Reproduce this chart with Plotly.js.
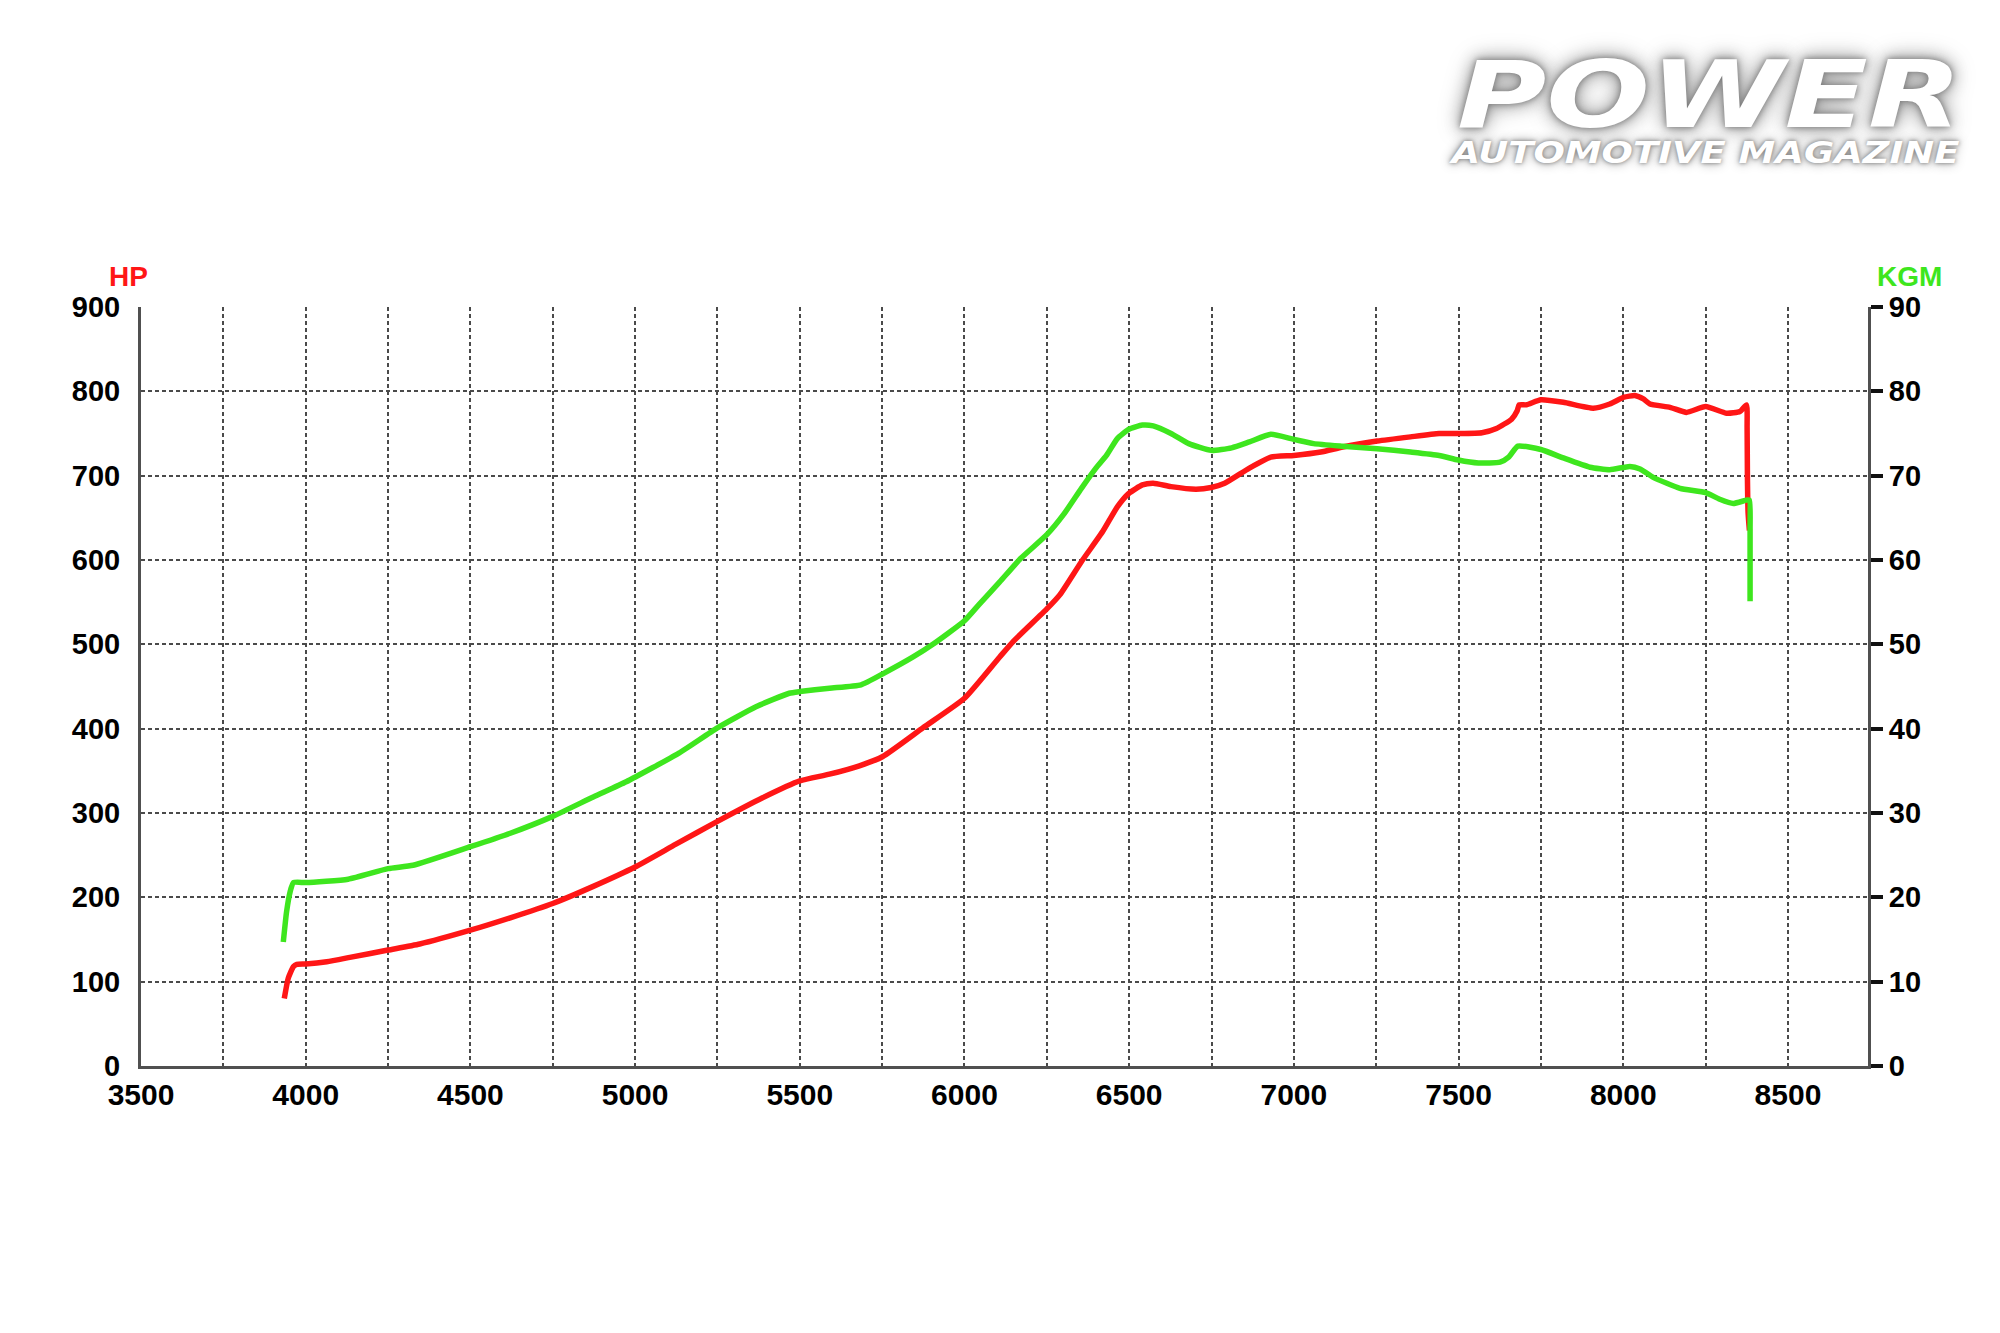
<!DOCTYPE html>
<html>
<head>
<meta charset="utf-8">
<script src="https://cdn.plot.ly/plotly-3.0.1.min.js"></script>
<style>html,body{margin:0;padding:0;background:#fff;}#chart{width:2000px;height:1333px;}</style>
</head>
<body>
<div id="chart"></div>
<script>
// ---- data ----
const hpRpm = [3935,3947,3963,3973,4000,4064,4134,4250,4346,4500,4621,4750,4873,5000,5124,5250,5387,5500,5590,5681,5752,5874,6000,6107,6147,6250,6290,6355,6420,6464,6499,6540,6573,6627,6703,6749,6790,6865,6930,7000,7082,7148,7253,7354,7441,7499,7571,7615,7661,7678,7684,7706,7750,7818,7909,7959,8002,8035,8061,8081,8142,8192,8250,8314,8354,8374,8376,8377,8379,8383];
const hpValues = [80,104,118,120.5,121,123.7,128.8,137.5,144.6,161,175.7,192.7,213,236,263,290,318,338,346,356,367,401,436,485,503,542,559,598,634,663,679,689,691,687,684,686,691,709,722,724,728,734,741,746,750,750,751,756,767,777,784,784,790,787,780,785,793,795,791,785,781,775,782,774,776,784,756,696,656,635];

const kgmRpm = [3932,3942,3953,3963,4000,4129,4250,4326,4500,4621,4750,4873,4973,5133,5250,5367,5468,5500,5590,5686,5752,5844,5904,6000,6046,6107,6171,6250,6301,6355,6399,6431,6464,6499,6540,6573,6627,6681,6749,6811,6865,6930,7000,7060,7148,7253,7354,7441,7499,7560,7626,7652,7680,7750,7818,7899,7959,8020,8051,8091,8172,8250,8293,8334,8374,8383,8385,8385];
const kgmValues = [14.7,18.3,20.7,21.75,21.75,22.15,23.4,23.8,26.0,27.6,29.6,31.9,33.7,37.1,40.1,42.6,44.2,44.4,44.8,45.2,46.5,48.5,50.0,52.8,54.8,57.4,60.2,63.0,65.4,68.5,70.9,72.4,74.4,75.5,76.0,75.9,75.0,73.8,73.0,73.3,74.0,74.9,74.3,73.8,73.5,73.2,72.8,72.4,71.85,71.5,71.6,72.2,73.5,73.1,72.1,71.0,70.7,71.1,70.8,69.8,68.5,68.0,67.2,66.7,67.1,67.1,63.7,55.1];

const xTicks = [3500,4000,4500,5000,5500,6000,6500,7000,7500,8000,8500];
const hpTicks = [0,100,200,300,400,500,600,700,800,900];
const kgmTicks = [0,10,20,30,40,50,60,70,80,90];
const leftTitle = "HP";
const rightTitle = "KGM";
const logoMain = "POWER";
const logoSub = "AUTOMOTIVE MAGAZINE";

// ---- styling ----
const RED = "#ff1616";
const GREEN = "#3ee61e";
const GRID = "#4a4a4a";
const AXIS = "#505050";
const tickFamily = "'Liberation Sans', Arial, sans-serif";

const traces = [
  {x: kgmRpm, y: kgmValues, yaxis: "y2", type: "scatter", mode: "lines",
   line: {color: GREEN, width: 5.5, shape: "spline", smoothing: 0.5}, hoverinfo: "skip"},
  {x: hpRpm, y: hpValues, yaxis: "y", type: "scatter", mode: "lines",
   line: {color: RED, width: 5.5, shape: "spline", smoothing: 0.5}, hoverinfo: "skip"}
];

const layout = {
  width: 2000, height: 1333,
  paper_bgcolor: "#ffffff", plot_bgcolor: "#ffffff",
  showlegend: false,
  margin: {l: 141, r: 132, t: 307, b: 267, pad: 0},
  xaxis: {
    range: [3500, 8743], tickmode: "array", tickvals: xTicks, ticktext: xTicks.map(String),
    showgrid: true, gridcolor: GRID, gridwidth: 2, griddash: "4px,3px",
    minor: {tick0: 3500, dtick: 250, showgrid: true, gridcolor: GRID, gridwidth: 2, griddash: "4px,3px", ticks: ""},
    showline: true, linecolor: AXIS, linewidth: 3, zeroline: false, ticks: "",
    tickfont: {family: tickFamily, size: 30, color: "#000", weight: "bold"},
    ticklabelstandoff: 0
  },
  yaxis: {
    range: [0, 900], tickmode: "array", tickvals: hpTicks, ticktext: hpTicks.map(String),
    showgrid: true, gridcolor: GRID, gridwidth: 2, griddash: "4px,3px",
    showline: true, linecolor: AXIS, linewidth: 3, zeroline: false, ticks: "",
    tickfont: {family: tickFamily, size: 29, color: "#000", weight: "bold"},
    ticklabelstandoff: 12
  },
  yaxis2: {
    range: [0, 90], overlaying: "y", side: "right", tickmode: "array", tickvals: kgmTicks, ticktext: kgmTicks.map(String),
    showgrid: false, showline: true, linecolor: AXIS, linewidth: 3, zeroline: false,
    ticks: "outside", ticklen: 12, tickwidth: 4, tickcolor: "#111",
    tickfont: {family: tickFamily, size: 29, color: "#000", weight: "bold"},
    ticklabelstandoff: 0
  },
  annotations: [
    {text: leftTitle, xref: "paper", yref: "paper", x: -0.0075, y: 1.0405, xanchor: "center", yanchor: "middle",
     showarrow: false, font: {family: tickFamily, size: 28, color: RED, weight: "bold"}},
    {text: rightTitle, xref: "paper", yref: "paper", x: 1.0243, y: 1.0405, xanchor: "center", yanchor: "middle",
     showarrow: false, font: {family: tickFamily, size: 28, color: GREEN, weight: "bold"}},
    {text: logoMain, xref: "paper", yref: "paper", x: 0.9085, y: 1.2790, xanchor: "center", yanchor: "middle",
     showarrow: false, font: {family: "'DejaVu Sans', sans-serif", size: 92, color: "#ffffff", weight: "bold", style: "italic",
       shadow: "0px 0px 6px #777, 0px 0px 14px #999, 0px 0px 22px #bbb"}},
    {text: logoSub, xref: "paper", yref: "paper", x: 0.9056, y: 1.2035, xanchor: "center", yanchor: "middle",
     showarrow: false, font: {family: "'DejaVu Sans', sans-serif", size: 30, color: "#ffffff", weight: "bold", style: "italic",
       shadow: "0px 0px 4px #777, 0px 0px 10px #999"}}
  ]
};

Plotly.newPlot("chart", traces, layout, {staticPlot: true, displayModeBar: false}).then(function (gd) {
  // stretch the logo words horizontally to the magazine's wide lettering
  const widths = {};
  widths[logoMain] = 505;
  widths[logoSub] = 508;
  gd.querySelectorAll("text.annotation-text").forEach(function (t) {
    const w = widths[t.textContent];
    if (w) {
      t.setAttribute("textLength", w);
      t.setAttribute("lengthAdjust", "spacingAndGlyphs");
    }
  });
});
</script>
</body>
</html>
